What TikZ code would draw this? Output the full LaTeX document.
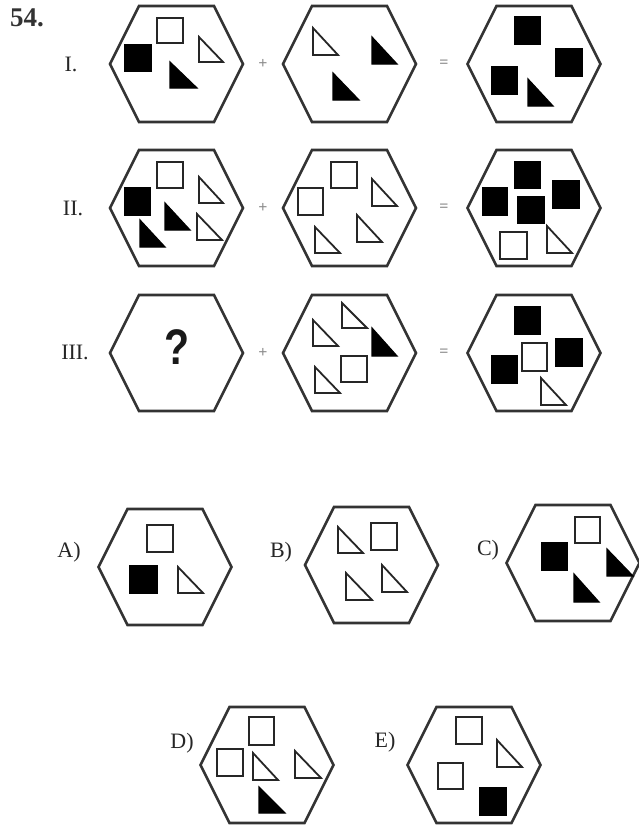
\documentclass[tikz,border=0pt]{standalone}
\usepackage{fontspec}
\setmainfont{Liberation Serif}
\newfontfamily\qfont{Liberation Sans}
\tikzset{
  hexline/.style={draw=black!80, line width=2.6pt, line join=miter},
  openshape/.style={draw=black!85, line width=1.8pt, fill=white},
  fullshape/.style={draw=black, line width=1.2pt, fill=black},
  lbl/.style={font=\fontsize{22}{22}\selectfont, text=black!85, inner sep=0pt},
  opsign/.style={font=\fontsize{16}{16}\selectfont\bfseries, text=black!45, inner sep=0pt}
}
\newcommand{\hexat}[3]{%
  \draw[hexline] ({#2-66.5},#3) -- ({#2-37.5},{#3-58}) -- ({#2+37.5},{#3-58})
    -- ({#2+66.5},#3) -- ({#2+37.5},{#3+58}) -- ({#2-37.5},{#3+58}) -- cycle;
  \coordinate (#1) at (#2,#3);}
\newcommand{\osq}[4]{\draw[openshape] (#1,#2) rectangle (#3,#4);}
\newcommand{\fsq}[4]{\draw[fullshape] (#1,#2) rectangle (#3,#4);}
\newcommand{\otri}[4]{\draw[openshape, line join=miter] (#1,#2) -- (#1,#4) -- (#3,#4) -- cycle;}
\newcommand{\ftri}[4]{\draw[fullshape, line join=miter] (#1,#2) -- (#1,#4) -- (#3,#4) -- cycle;}
\begin{document}
\begin{tikzpicture}[x=1pt,y=-1pt]
\useasboundingbox[fill=white] (0,0) rectangle (639,827);

% labels
\node[font=\fontsize{27}{27}\selectfont\bfseries, text=black!80, inner sep=0pt] (n54) at (27,18) {54.};
\node[lbl] (lI) at (71,64) {I.};
\node[lbl] (lII) at (73,208) {II.};
\node[lbl] (lIII) at (75,352) {III.};

% operators
\node[opsign] (p1) at (263,64) {+};
\node[opsign] (e1) at (444,64) {=};
\node[opsign] (p2) at (263,208) {+};
\node[opsign] (e2) at (444,208) {=};
\node[opsign] (p3) at (263,353) {+};
\node[opsign] (e3) at (444,353) {=};

% Row I
\hexat{h11}{176.5}{64}
\osq{157}{18}{183}{43}
\fsq{125}{45}{151}{71}
\otri{199}{37}{223}{62}
\ftri{170}{62}{197}{88}

\hexat{h12}{349.5}{64}
\otri{313}{28}{338}{55}
\ftri{372}{37}{397}{64}
\ftri{333}{73}{359}{100}

\hexat{h13}{534}{64}
\fsq{515}{17}{540}{44}
\fsq{556}{49}{582}{76}
\fsq{492}{67}{517}{94}
\ftri{528}{79}{553}{106}

% Row II
\hexat{h21}{176.5}{208}
\osq{157}{162}{183}{188}
\otri{199}{177}{223}{203}
\fsq{125}{188}{150}{215}
\ftri{165}{203}{190}{230}
\otri{197}{214}{222}{240}
\ftri{140}{220}{165}{247}

\hexat{h22}{349.5}{208}
\osq{331}{162}{357}{188}
\osq{298}{188}{323}{215}
\otri{372}{179}{397}{206}
\otri{357}{215}{382}{242}
\otri{315}{227}{340}{253}

\hexat{h23}{534}{208}
\fsq{515}{162}{540}{188}
\fsq{483}{188}{507}{215}
\fsq{553}{181}{579}{208}
\fsq{518}{197}{544}{223}
\osq{500}{232}{527}{259}
\otri{547}{226}{572}{253}

% Row III
\hexat{h31}{176.5}{353}
\node[font=\qfont\bfseries\fontsize{50}{50}\selectfont, xscale=0.82, inner sep=0pt, text=black!90] (q) at (177,347) {?};

\hexat{h32}{349.5}{353}
\otri{342}{303}{367}{328}
\otri{313}{320}{338}{346}
\ftri{372}{328}{397}{356}
\osq{341}{356}{367}{382}
\otri{315}{367}{340}{393}

\hexat{h33}{534}{353}
\fsq{515}{307}{540}{334}
\osq{522}{343}{547}{371}
\fsq{556}{339}{582}{366}
\fsq{492}{356}{517}{383}
\otri{541}{378}{566}{405}

% Answers
\node[lbl] (la) at (69,552) {A)};
\hexat{ha}{165}{567}
\osq{147}{525}{173}{552}
\fsq{130}{566}{157}{593}
\otri{178}{567}{203}{593}

\node[lbl] (lb) at (281,552) {B)};
\hexat{hb}{371.5}{565}
\otri{338}{527}{363}{553}
\osq{371}{523}{397}{550}
\otri{346}{573}{372}{600}
\otri{382}{565}{407}{592}

\node[lbl] (lc) at (488,550) {C)};
\hexat{hc}{573}{563}
\osq{575}{517}{600}{543}
\fsq{542}{543}{567}{570}
\ftri{607}{549}{633}{576}
\ftri{574}{574}{599}{602}

\node[lbl] (ld) at (182,743) {D)};
\hexat{hd}{267}{765}
\osq{249}{717}{274}{745}
\osq{217}{749}{243}{776}
\otri{253}{753}{278}{780}
\otri{295}{751}{321}{778}
\ftri{259}{787}{285}{813}

\node[lbl] (le) at (385,742) {E)};
\hexat{he}{474}{765}
\osq{456}{717}{482}{744}
\otri{497}{740}{522}{767}
\osq{438}{763}{463}{789}
\fsq{480}{788}{506}{815}
\end{tikzpicture}
\end{document}
